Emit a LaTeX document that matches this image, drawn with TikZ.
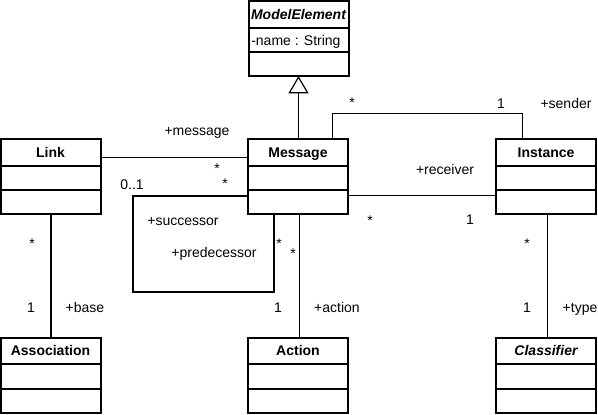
\documentclass[tikz,border=0pt]{standalone}
\usepackage{fontspec}
\setmainfont{Liberation Sans}
\usetikzlibrary{calc,arrows.meta}
\tikzset{
  cls/.style={draw, line width=1.5pt, minimum width=75pt, minimum height=56.25pt, inner sep=0pt, outer sep=0pt},
  ttl/.style={anchor=base, inner sep=0pt, font=\fontsize{10.5}{12}\selectfont\bfseries},
  sep line/.style={line width=1.5pt},
  assoc/.style={line width=0.75pt},
  thickassoc/.style={line width=1.5pt},
  lbl/.style={anchor=base, inner sep=0pt, font=\fontsize{10.5}{12}\selectfont},
  gen/.style={line width=0.75pt, -{Triangle[open, length=13pt, width=15pt, line width=0.9pt]}}
}
\newcommand\umlclass[4]{%
  \node[cls] (#1) at (#2) {};
  \node[ttl,#4] (#1-t) at ($(#1.north)+(0,18)$) {#3};
  \draw[sep line] ($(#1.north west)+(0,26.5)$) -- ($(#1.north east)+(0,26.5)$);
  \draw[sep line] ($(#1.north west)+(0,51)$) -- ($(#1.north east)+(0,51)$);
}
\begin{document}
\begin{tikzpicture}[x=0.75pt,y=-0.75pt]
\useasboundingbox (0,0) rectangle (598,414);
% classes
\umlclass{me}{298.5,38.5}{ModelElement}{font=\fontsize{10.5}{12}\selectfont\bfseries\itshape}
\node[lbl, anchor=base west] (me-a) at (251,45) {-name : String};
\umlclass{link}{50.5,176.5}{Link}{}
\umlclass{msg}{298,176.5}{Message}{}
\umlclass{inst}{546,176.5}{Instance}{}
\umlclass{asc}{50.5,375}{Association}{}
\umlclass{act}{298,375}{Action}{}
\umlclass{clf}{546,375}{Classifier}{font=\fontsize{10.5}{12}\selectfont\bfseries\itshape}
% coordinates
\coordinate (lm) at (150,157);
\coordinate (s1) at (133,196);
\coordinate (s2) at (274,292);
\coordinate (sa) at (332,113);
\coordinate (sb) at (522,113);
\coordinate (rcv) at (420,195);
% generalization
\draw[gen] (msg.north -| me.south) -- (me.south);
% Link - Message
\draw[assoc] (link.east |- lm) -- (msg.west |- lm);
% self association
\draw[thickassoc] (msg.west |- s1) -- (s1) |- (s2) -- (s2 |- msg.south);
% sender
\draw[assoc] (sa |- msg.north) -- (sa) -- (sb) -- (sb |- inst.north);
% receiver
\draw[assoc] (msg.east |- rcv) -- (inst.west |- rcv);
% verticals
\draw[thickassoc] (link.south) -- (asc.north);
\draw[assoc] ($(msg.south)+(1,0)$) -- ($(act.north)+(1,0)$);
\draw[assoc] ($(inst.south)+(1,0)$) -- ($(clf.north)+(1,0)$);
% labels
\node[lbl] (l1) at (197,135) {+message};
\node[lbl] (l2) at (217,173) {*};
\node[lbl] (l3) at (132,189) {0..1};
\node[lbl] (l4) at (225,188) {*};
\node[lbl] (l5) at (183,225) {+successor};
\node[lbl] (l6) at (214,257) {+predecessor};
\node[lbl] (l7) at (279,248) {*};
\node[lbl] (l8) at (293,258) {*};
\node[lbl] (l9) at (445,174) {+receiver};
\node[lbl] (l10) at (370,225) {*};
\node[lbl] (l11) at (470,224) {1};
\node[lbl] (l12) at (352,107) {*};
\node[lbl] (l13) at (501,108) {1};
\node[lbl] (l14) at (566,108) {+sender};
\node[lbl] (l15) at (32,248) {*};
\node[lbl] (l16) at (31,312) {1};
\node[lbl] (l17) at (85,312) {+base};
\node[lbl] (l18) at (278,312) {1};
\node[lbl] (l19) at (337,312) {+action};
\node[lbl] (l20) at (527,248) {*};
\node[lbl] (l21) at (527,312) {1};
\node[lbl] (l22) at (580,312) {+type};
\end{tikzpicture}
\end{document}
